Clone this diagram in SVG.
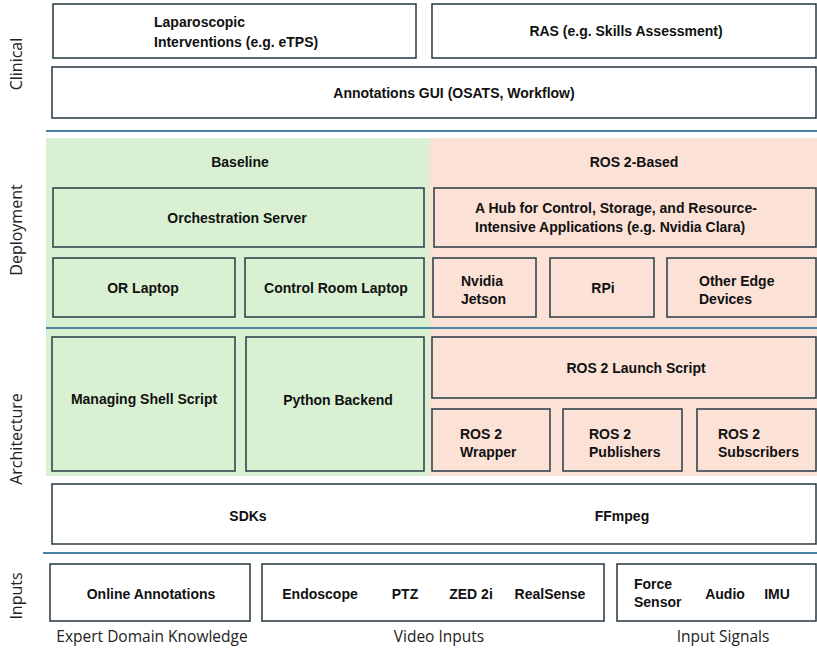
<svg xmlns="http://www.w3.org/2000/svg" width="817" height="650" viewBox="0 0 817 650">
<style>
.box{fill:#ffffff;stroke:#34454d;stroke-width:1.6}
.g{fill:#d9f1d2}
.p{fill:#fbe1d6}
.bx{fill:none;stroke:#34454d;stroke-width:1.6}
.sep{stroke:#4b84a3;stroke-width:2}
.t{font-family:"Liberation Sans",Arial,sans-serif;font-weight:bold;font-size:14px;fill:#111;dominant-baseline:central}
.c{text-anchor:middle}
.side{font-family:"Open Sans","Liberation Sans",sans-serif;font-size:16px;fill:#222;text-anchor:middle;dominant-baseline:central}
.lab{font-family:"Open Sans","Liberation Sans",sans-serif;font-size:15.5px;fill:#222;text-anchor:middle;dominant-baseline:central}
</style>
<rect width="817" height="650" fill="#ffffff"/>
<g id="backgrounds">
<rect class="g" x="46" y="138" width="384" height="338"/>
<rect class="p" x="430" y="138" width="387" height="338"/>
</g>
<g id="separators">
<line class="sep" x1="46" y1="131" x2="817" y2="131"/>
<line class="sep" x1="46" y1="328" x2="817" y2="328"/>
<line class="sep" x1="43" y1="553" x2="817" y2="553"/>
</g>
<g id="side-labels">
<text class="side" transform="translate(16,64) rotate(-90)">Clinical</text>
<text class="side" transform="translate(16,230) rotate(-90)">Deployment</text>
<text class="side" transform="translate(16,439) rotate(-90)">Architecture</text>
<text class="side" transform="translate(16,596) rotate(-90)">Inputs</text>
</g>
<g id="laparoscopic"><rect class="box" x="53" y="4" width="363" height="54"/>
<text class="t" x="154" y="22">Laparoscopic</text><text class="t" x="154" y="42">Interventions (e.g. eTPS)</text></g>
<g id="ras"><rect class="box" x="432" y="4" width="384" height="54"/>
<text class="t c" x="626" y="31">RAS (e.g. Skills Assessment)</text></g>
<g id="annotations-gui"><rect class="box" x="52" y="67" width="764" height="51"/>
<text class="t c" x="454" y="93">Annotations GUI (OSATS, Workflow)</text></g>
<g id="baseline"><text class="t c" x="240" y="162">Baseline</text></g>
<g id="ros2-based"><text class="t c" x="634" y="162">ROS 2-Based</text></g>
<g id="orchestration-server"><rect class="bx" x="53" y="188" width="371" height="59"/>
<text class="t c" x="237" y="218">Orchestration Server</text></g>
<g id="hub"><rect class="bx" x="434" y="188" width="382" height="59"/>
<text class="t" x="475" y="208">A Hub for Control, Storage, and Resource-</text>
<text class="t" x="475" y="227">Intensive Applications (e.g. Nvidia Clara)</text></g>
<g id="or-laptop"><rect class="bx" x="53" y="258" width="182" height="59"/>
<text class="t c" x="143" y="288">OR Laptop</text></g>
<g id="control-room-laptop"><rect class="bx" x="245" y="258" width="179" height="59"/>
<text class="t c" x="336" y="288">Control Room Laptop</text></g>
<g id="nvidia-jetson"><rect class="bx" x="433" y="258" width="103" height="59"/>
<text class="t" x="461" y="281">Nvidia</text><text class="t" x="461" y="299">Jetson</text></g>
<g id="rpi"><rect class="bx" x="550" y="258" width="104" height="59"/>
<text class="t c" x="603" y="288">RPi</text></g>
<g id="other-edge"><rect class="bx" x="667" y="258" width="149" height="59"/>
<text class="t" x="699" y="281">Other Edge</text><text class="t" x="699" y="299">Devices</text></g>
<g id="managing-shell-script"><rect class="bx" x="52" y="337" width="183" height="134"/>
<text class="t c" x="144" y="399">Managing Shell Script</text></g>
<g id="python-backend"><rect class="bx" x="246" y="337" width="178" height="134"/>
<text class="t c" x="338" y="400">Python Backend</text></g>
<g id="ros2-launch"><rect class="bx" x="432" y="337" width="384" height="61"/>
<text class="t c" x="636" y="368">ROS 2 Launch Script</text></g>
<g id="ros2-wrapper"><rect class="bx" x="432" y="409" width="118" height="62"/>
<text class="t" x="460" y="434">ROS 2</text><text class="t" x="460" y="452">Wrapper</text></g>
<g id="ros2-publishers"><rect class="bx" x="563" y="409" width="119" height="62"/>
<text class="t" x="589" y="434">ROS 2</text><text class="t" x="589" y="452">Publishers</text></g>
<g id="ros2-subscribers"><rect class="bx" x="697" y="409" width="119" height="62"/>
<text class="t" x="718" y="434">ROS 2</text><text class="t" x="718" y="452">Subscribers</text></g>
<g id="sdks-ffmpeg"><rect class="box" x="52" y="484" width="764" height="60"/>
<text class="t c" x="248" y="516">SDKs</text><text class="t c" x="622" y="516">FFmpeg</text></g>
<g id="online-annotations"><rect class="box" x="50" y="564" width="200" height="57"/>
<text class="t c" x="151" y="594">Online Annotations</text></g>
<g id="video-inputs"><rect class="box" x="262" y="564" width="342" height="57"/>
<text class="t c" x="320" y="594">Endoscope</text><text class="t c" x="405" y="594">PTZ</text>
<text class="t c" x="471" y="594">ZED 2i</text><text class="t c" x="550" y="594">RealSense</text></g>
<g id="input-signals"><rect class="box" x="617" y="564" width="199" height="57"/>
<text class="t" x="634" y="584">Force</text><text class="t" x="634" y="602">Sensor</text>
<text class="t c" x="725" y="594">Audio</text><text class="t c" x="777" y="594">IMU</text></g>
<g id="input-labels">
<text class="lab" x="152" y="636">Expert Domain Knowledge</text>
<text class="lab" x="439" y="636">Video Inputs</text>
<text class="lab" x="723" y="636">Input Signals</text>
</g>
</svg>
